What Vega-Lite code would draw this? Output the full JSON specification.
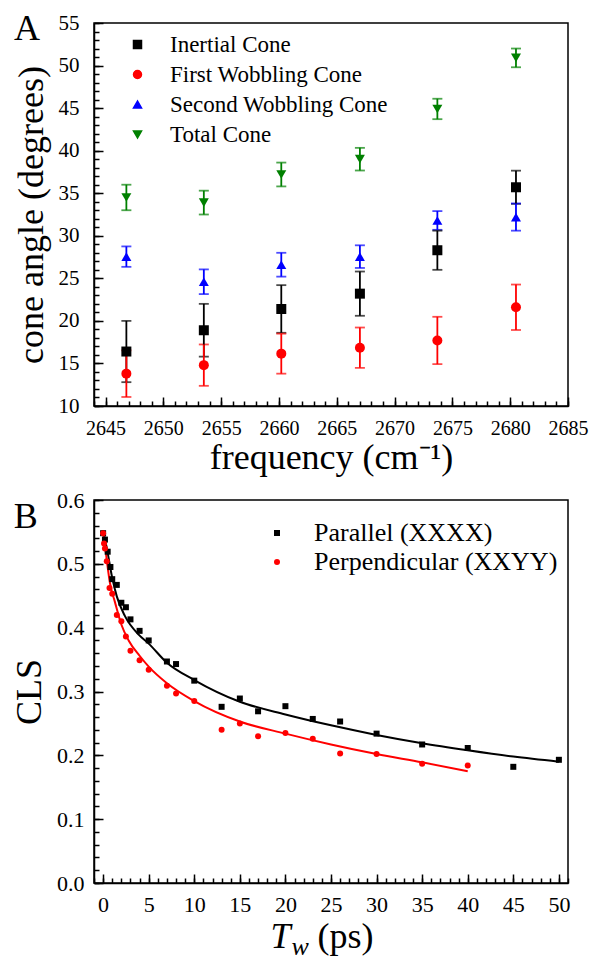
{
  "$schema": "https://vega.github.io/schema/vega-lite/v6.json",
  "background": "white",
  "padding": {"left": 10, "top": 10, "right": 0, "bottom": 5},
  "config": {
    "font": "Liberation Serif",
    "view": {"stroke": "black", "strokeWidth": 1.5},
    "axis": {
      "grid": false,
      "domainColor": "black", "domainWidth": 1.5,
      "tickColor": "black", "tickWidth": 1.5,
      "labelFont": "Liberation Serif", "labelFontSize": 21, "labelColor": "black",
      "labelOverlap": false, "labelFlush": false,
      "titleFont": "Liberation Serif", "titleFontSize": 36, "titleFontWeight": "normal", "titleColor": "black"
    },
    "legend": {"labelFont": "Liberation Serif", "labelColor": "black", "labelLimit": 0, "symbolOpacity": 1},
    "concat": {"spacing": 12}
  },
  "resolve": {"scale": {"color": "independent", "shape": "independent"}, "legend": {"color": "independent", "shape": "independent"}},
  "vconcat": [
    {
      "width": 474,
      "height": 383,
      "data": {"values": [
        {"series": "Inertial Cone", "freq": 2646.8, "angle": 16.4, "err": 3.6},
        {"series": "Inertial Cone", "freq": 2653.5, "angle": 18.9, "err": 3.1},
        {"series": "Inertial Cone", "freq": 2660.2, "angle": 21.4, "err": 2.8},
        {"series": "Inertial Cone", "freq": 2667.0, "angle": 23.2, "err": 2.6},
        {"series": "Inertial Cone", "freq": 2673.7, "angle": 28.3, "err": 2.3},
        {"series": "Inertial Cone", "freq": 2680.5, "angle": 35.7, "err": 1.95},
        {"series": "First Wobbling Cone", "freq": 2646.8, "angle": 13.8, "err": 2.74},
        {"series": "First Wobbling Cone", "freq": 2653.5, "angle": 14.8, "err": 2.43},
        {"series": "First Wobbling Cone", "freq": 2660.2, "angle": 16.15, "err": 2.35},
        {"series": "First Wobbling Cone", "freq": 2667.0, "angle": 16.85, "err": 2.37},
        {"series": "First Wobbling Cone", "freq": 2673.7, "angle": 17.7, "err": 2.78},
        {"series": "First Wobbling Cone", "freq": 2680.5, "angle": 21.6, "err": 2.67},
        {"series": "Second Wobbling Cone", "freq": 2646.8, "angle": 27.55, "err": 1.2},
        {"series": "Second Wobbling Cone", "freq": 2653.5, "angle": 24.6, "err": 1.45},
        {"series": "Second Wobbling Cone", "freq": 2660.2, "angle": 26.6, "err": 1.4},
        {"series": "Second Wobbling Cone", "freq": 2667.0, "angle": 27.55, "err": 1.33},
        {"series": "Second Wobbling Cone", "freq": 2673.7, "angle": 31.8, "err": 1.1},
        {"series": "Second Wobbling Cone", "freq": 2680.5, "angle": 32.2, "err": 1.6},
        {"series": "Total Cone", "freq": 2646.8, "angle": 34.5, "err": 1.5},
        {"series": "Total Cone", "freq": 2653.5, "angle": 33.9, "err": 1.4},
        {"series": "Total Cone", "freq": 2660.2, "angle": 37.2, "err": 1.4},
        {"series": "Total Cone", "freq": 2667.0, "angle": 39.0, "err": 1.33},
        {"series": "Total Cone", "freq": 2673.7, "angle": 44.9, "err": 1.2},
        {"series": "Total Cone", "freq": 2680.5, "angle": 50.9, "err": 1.1}
      ]},
      "layer": [
        {
          "mark": {"type": "errorbar", "ticks": {"size": 10}, "thickness": 1.8},
          "encoding": {
            "x": {"field": "freq", "type": "quantitative",
                  "scale": {"domain": [2644, 2685], "nice": false, "zero": false},
                  "axis": {"orient": "bottom", "values": [2645, 2650, 2655, 2660, 2665, 2670, 2675, 2680, 2685], "format": "d", "tickSize": -9, "labelPadding": 21, "labelFontSize": 20, "labelFont": "Liberation Serif", "title": "frequency (cm⁻¹)", "titlePadding": 2}},
            "y": {"field": "angle", "type": "quantitative",
                  "scale": {"domain": [10, 55], "nice": false, "zero": false},
                  "axis": {"orient": "left", "values": [10, 15, 20, 25, 30, 35, 40, 45, 50, 55], "format": "d", "tickSize": -9, "labelPadding": 24, "labelFont": "Liberation Serif", "title": "cone angle (degrees)", "titlePadding": 8}},
            "yError": {"field": "err"},
            "color": {"field": "series", "type": "nominal",
                      "scale": {"domain": ["Inertial Cone", "First Wobbling Cone", "Second Wobbling Cone", "Total Cone"], "range": ["#000000", "#ff0000", "#0000ff", "#008000"]},
                      "legend": {"orient": "none", "legendX": 32, "legendY": 10, "title": null, "labelFontSize": 23, "symbolSize": 64, "rowPadding": 6, "labelOffset": 21, "padding": 0}}
          }
        },
        {
          "mark": {"type": "point", "filled": true, "opacity": 1, "size": 100},
          "encoding": {
            "x": {"field": "freq", "type": "quantitative",
                  "scale": {"domain": [2644, 2685], "nice": false, "zero": false},
                  "axis": {"orient": "bottom", "values": [2644, 2645, 2646, 2647, 2648, 2649, 2650, 2651, 2652, 2653, 2654, 2655, 2656, 2657, 2658, 2659, 2660, 2661, 2662, 2663, 2664, 2665, 2666, 2667, 2668, 2669, 2670, 2671, 2672, 2673, 2674, 2675, 2676, 2677, 2678, 2679, 2680, 2681, 2682, 2683, 2684, 2685], "tickSize": -5, "labels": false, "domain": false, "title": null}},
            "y": {"field": "angle", "type": "quantitative",
                  "scale": {"domain": [10, 55], "nice": false, "zero": false},
                  "axis": {"orient": "left", "values": [10, 11, 12, 13, 14, 15, 16, 17, 18, 19, 20, 21, 22, 23, 24, 25, 26, 27, 28, 29, 30, 31, 32, 33, 34, 35, 36, 37, 38, 39, 40, 41, 42, 43, 44, 45, 46, 47, 48, 49, 50, 51, 52, 53, 54, 55], "tickSize": -5, "labels": false, "domain": false, "title": null}},
            "color": {"field": "series", "type": "nominal",
                      "scale": {"domain": ["Inertial Cone", "First Wobbling Cone", "Second Wobbling Cone", "Total Cone"], "range": ["#000000", "#ff0000", "#0000ff", "#008000"]},
                      "legend": {"orient": "none", "legendX": 32, "legendY": 10, "title": null, "labelFontSize": 23, "symbolSize": 64, "rowPadding": 6, "labelOffset": 21, "padding": 0}},
            "shape": {"field": "series", "type": "nominal",
                      "scale": {"domain": ["Inertial Cone", "First Wobbling Cone", "Second Wobbling Cone", "Total Cone"], "range": ["square", "circle", "triangle-up", "triangle-down"]},
                      "legend": {"orient": "none", "legendX": 32, "legendY": 10, "title": null, "labelFontSize": 23, "symbolSize": 64, "rowPadding": 6, "labelOffset": 21, "padding": 0}}
          }
        },
        {
          "data": {"values": [{"panel": "A"}]},
          "mark": {"type": "text", "fontSize": 36, "font": "Liberation Serif", "align": "center", "baseline": "alphabetic", "color": "black"},
          "encoding": {
            "text": {"field": "panel", "type": "nominal"},
            "x": {"datum": 2638.2, "type": "quantitative", "scale": {"domain": [2644, 2685], "nice": false, "zero": false}, "axis": null},
            "y": {"datum": 52.95, "type": "quantitative", "scale": {"domain": [10, 55], "nice": false, "zero": false}, "axis": null}
          }
        }
      ],
      "resolve": {"axis": {"x": "independent", "y": "independent"}}
    },
    {
      "width": 474,
      "height": 383,
      "layer": [
        {
          "data": {"values": [
            {"T": 0, "CLS": 0.552}, {"T": 0.4, "CLS": 0.525}, {"T": 1, "CLS": 0.478}, {"T": 1.5, "CLS": 0.449},
            {"T": 2.4, "CLS": 0.418}, {"T": 3.9, "CLS": 0.389}, {"T": 5, "CLS": 0.375}, {"T": 7, "CLS": 0.345},
            {"T": 10, "CLS": 0.318}, {"T": 15, "CLS": 0.284}, {"T": 20, "CLS": 0.264}, {"T": 25, "CLS": 0.247},
            {"T": 30, "CLS": 0.232}, {"T": 35, "CLS": 0.219}, {"T": 40, "CLS": 0.208}, {"T": 45, "CLS": 0.198},
            {"T": 50, "CLS": 0.19}
          ]},
          "mark": {"type": "line", "color": "black", "strokeWidth": 2, "interpolate": "monotone"},
          "encoding": {
            "x": {"field": "T", "type": "quantitative",
                  "scale": {"domain": [-1, 51], "nice": false, "zero": false},
                  "axis": {"orient": "bottom", "values": [0, 5, 10, 15, 20, 25, 30, 35, 40, 45, 50], "tickSize": -9, "labelPadding": 20, "labelFontSize": 22, "labelFont": "Liberation Serif", "title": "(ps)", "titleX": 223, "titleY": 64, "titleAlign": "left", "titleBaseline": "alphabetic"}},
            "y": {"field": "CLS", "type": "quantitative",
                  "scale": {"domain": [0, 0.6], "nice": false, "zero": false},
                  "axis": {"orient": "left", "values": [0, 0.1, 0.2, 0.3, 0.4, 0.5, 0.6], "format": ".1f", "tickSize": -9, "labelPadding": 19, "labelFontSize": 22, "labelFont": "Liberation Serif", "title": "CLS", "titlePadding": 8}}
          }
        },
        {
          "data": {"values": [
            {"T": 0, "CLS": 0.553}, {"T": 0.4, "CLS": 0.506}, {"T": 0.75, "CLS": 0.47}, {"T": 1.3, "CLS": 0.44},
            {"T": 2, "CLS": 0.405}, {"T": 2.8, "CLS": 0.38}, {"T": 4, "CLS": 0.356}, {"T": 5, "CLS": 0.339},
            {"T": 7, "CLS": 0.313}, {"T": 10, "CLS": 0.285}, {"T": 15, "CLS": 0.253}, {"T": 20, "CLS": 0.234},
            {"T": 25, "CLS": 0.217}, {"T": 30, "CLS": 0.202}, {"T": 35, "CLS": 0.189}, {"T": 40, "CLS": 0.175}
          ]},
          "mark": {"type": "line", "color": "#ff0000", "strokeWidth": 2, "interpolate": "monotone"},
          "encoding": {
            "x": {"field": "T", "type": "quantitative",
                  "scale": {"domain": [-1, 51], "nice": false, "zero": false},
                  "axis": {"orient": "bottom", "values": [-1, 0, 1, 2, 3, 4, 5, 6, 7, 8, 9, 10, 11, 12, 13, 14, 15, 16, 17, 18, 19, 20, 21, 22, 23, 24, 25, 26, 27, 28, 29, 30, 31, 32, 33, 34, 35, 36, 37, 38, 39, 40, 41, 42, 43, 44, 45, 46, 47, 48, 49, 50, 51], "tickSize": -5, "labels": false, "domain": false, "title": "T", "titleFontStyle": "italic", "titleX": 176, "titleY": 64, "titleAlign": "left", "titleBaseline": "alphabetic"}},
            "y": {"field": "CLS", "type": "quantitative",
                  "scale": {"domain": [0, 0.6], "nice": false, "zero": false},
                  "axis": {"orient": "left", "values": [0, 0.02, 0.04, 0.06, 0.08, 0.1, 0.12, 0.14, 0.16, 0.18, 0.2, 0.22, 0.24, 0.26, 0.28, 0.3, 0.32, 0.34, 0.36, 0.38, 0.4, 0.42, 0.44, 0.46, 0.48, 0.5, 0.52, 0.54, 0.56, 0.58, 0.6], "tickSize": -5, "labels": false, "domain": false, "title": null}}
          }
        },
        {
          "data": {"values": [
            {"series": "Parallel (XXXX)", "T": 0, "CLS": 0.548}, {"series": "Parallel (XXXX)", "T": 0.2, "CLS": 0.538},
            {"series": "Parallel (XXXX)", "T": 0.5, "CLS": 0.519}, {"series": "Parallel (XXXX)", "T": 0.8, "CLS": 0.495},
            {"series": "Parallel (XXXX)", "T": 1.0, "CLS": 0.476}, {"series": "Parallel (XXXX)", "T": 1.5, "CLS": 0.467},
            {"series": "Parallel (XXXX)", "T": 2, "CLS": 0.439}, {"series": "Parallel (XXXX)", "T": 2.5, "CLS": 0.432},
            {"series": "Parallel (XXXX)", "T": 3, "CLS": 0.413}, {"series": "Parallel (XXXX)", "T": 4, "CLS": 0.395},
            {"series": "Parallel (XXXX)", "T": 5, "CLS": 0.38}, {"series": "Parallel (XXXX)", "T": 7, "CLS": 0.347},
            {"series": "Parallel (XXXX)", "T": 8, "CLS": 0.343}, {"series": "Parallel (XXXX)", "T": 10, "CLS": 0.317},
            {"series": "Parallel (XXXX)", "T": 13, "CLS": 0.276}, {"series": "Parallel (XXXX)", "T": 15, "CLS": 0.289},
            {"series": "Parallel (XXXX)", "T": 17, "CLS": 0.269}, {"series": "Parallel (XXXX)", "T": 20, "CLS": 0.277},
            {"series": "Parallel (XXXX)", "T": 23, "CLS": 0.257}, {"series": "Parallel (XXXX)", "T": 26, "CLS": 0.253},
            {"series": "Parallel (XXXX)", "T": 30, "CLS": 0.234}, {"series": "Parallel (XXXX)", "T": 35, "CLS": 0.217},
            {"series": "Parallel (XXXX)", "T": 40, "CLS": 0.2115}, {"series": "Parallel (XXXX)", "T": 45, "CLS": 0.182},
            {"series": "Parallel (XXXX)", "T": 50, "CLS": 0.193},
            {"series": "Perpendicular (XXYY)", "T": 0, "CLS": 0.548}, {"series": "Perpendicular (XXYY)", "T": 0.1, "CLS": 0.532},
            {"series": "Perpendicular (XXYY)", "T": 0.2, "CLS": 0.524}, {"series": "Perpendicular (XXYY)", "T": 0.4, "CLS": 0.504},
            {"series": "Perpendicular (XXYY)", "T": 0.7, "CLS": 0.462}, {"series": "Perpendicular (XXYY)", "T": 1.0, "CLS": 0.453},
            {"series": "Perpendicular (XXYY)", "T": 1.5, "CLS": 0.42}, {"series": "Perpendicular (XXYY)", "T": 2, "CLS": 0.41},
            {"series": "Perpendicular (XXYY)", "T": 2.5, "CLS": 0.386}, {"series": "Perpendicular (XXYY)", "T": 3, "CLS": 0.364},
            {"series": "Perpendicular (XXYY)", "T": 4, "CLS": 0.349}, {"series": "Perpendicular (XXYY)", "T": 5, "CLS": 0.334},
            {"series": "Perpendicular (XXYY)", "T": 7, "CLS": 0.309}, {"series": "Perpendicular (XXYY)", "T": 8, "CLS": 0.297},
            {"series": "Perpendicular (XXYY)", "T": 10, "CLS": 0.285}, {"series": "Perpendicular (XXYY)", "T": 13, "CLS": 0.24},
            {"series": "Perpendicular (XXYY)", "T": 15, "CLS": 0.25}, {"series": "Perpendicular (XXYY)", "T": 17, "CLS": 0.23},
            {"series": "Perpendicular (XXYY)", "T": 20, "CLS": 0.235}, {"series": "Perpendicular (XXYY)", "T": 23, "CLS": 0.226},
            {"series": "Perpendicular (XXYY)", "T": 26, "CLS": 0.203}, {"series": "Perpendicular (XXYY)", "T": 30, "CLS": 0.202},
            {"series": "Perpendicular (XXYY)", "T": 35, "CLS": 0.187}, {"series": "Perpendicular (XXYY)", "T": 40, "CLS": 0.184}
          ]},
          "mark": {"type": "point", "filled": true, "opacity": 1, "size": 36},
          "encoding": {
            "x": {"field": "T", "type": "quantitative", "scale": {"domain": [-1, 51], "nice": false, "zero": false}, "axis": null},
            "y": {"field": "CLS", "type": "quantitative", "scale": {"domain": [0, 0.6], "nice": false, "zero": false}, "axis": null},
            "color": {"field": "series", "type": "nominal",
                      "scale": {"domain": ["Parallel (XXXX)", "Perpendicular (XXYY)"], "range": ["#000000", "#ff0000"]},
                      "legend": {"orient": "none", "legendX": 170, "legendY": 20, "title": null, "labelFontSize": 26, "symbolSize": 36, "rowPadding": 3, "labelOffset": 24, "padding": 0}},
            "shape": {"field": "series", "type": "nominal",
                      "scale": {"domain": ["Parallel (XXXX)", "Perpendicular (XXYY)"], "range": ["square", "circle"]},
                      "legend": {"orient": "none", "legendX": 170, "legendY": 20, "title": null, "labelFontSize": 26, "symbolSize": 36, "rowPadding": 3, "labelOffset": 24, "padding": 0}}
          }
        },
        {
          "data": {"values": [{"panel": "B"}]},
          "mark": {"type": "text", "fontSize": 36, "font": "Liberation Serif", "align": "center", "baseline": "alphabetic", "color": "black"},
          "encoding": {
            "text": {"field": "panel", "type": "nominal"},
            "x": {"datum": -8.5, "type": "quantitative", "scale": {"domain": [-1, 51], "nice": false, "zero": false},
                  "axis": {"orient": "bottom", "labels": false, "ticks": false, "domain": false, "title": "w", "titleFontSize": 26, "titleFontStyle": "italic", "titleX": 197, "titleY": 71, "titleAlign": "left", "titleBaseline": "alphabetic"}},
            "y": {"datum": 0.556, "type": "quantitative", "scale": {"domain": [0, 0.6], "nice": false, "zero": false}, "axis": null}
          }
        }
      ],
      "resolve": {"axis": {"x": "independent", "y": "independent"}}
    }
  ]
}
